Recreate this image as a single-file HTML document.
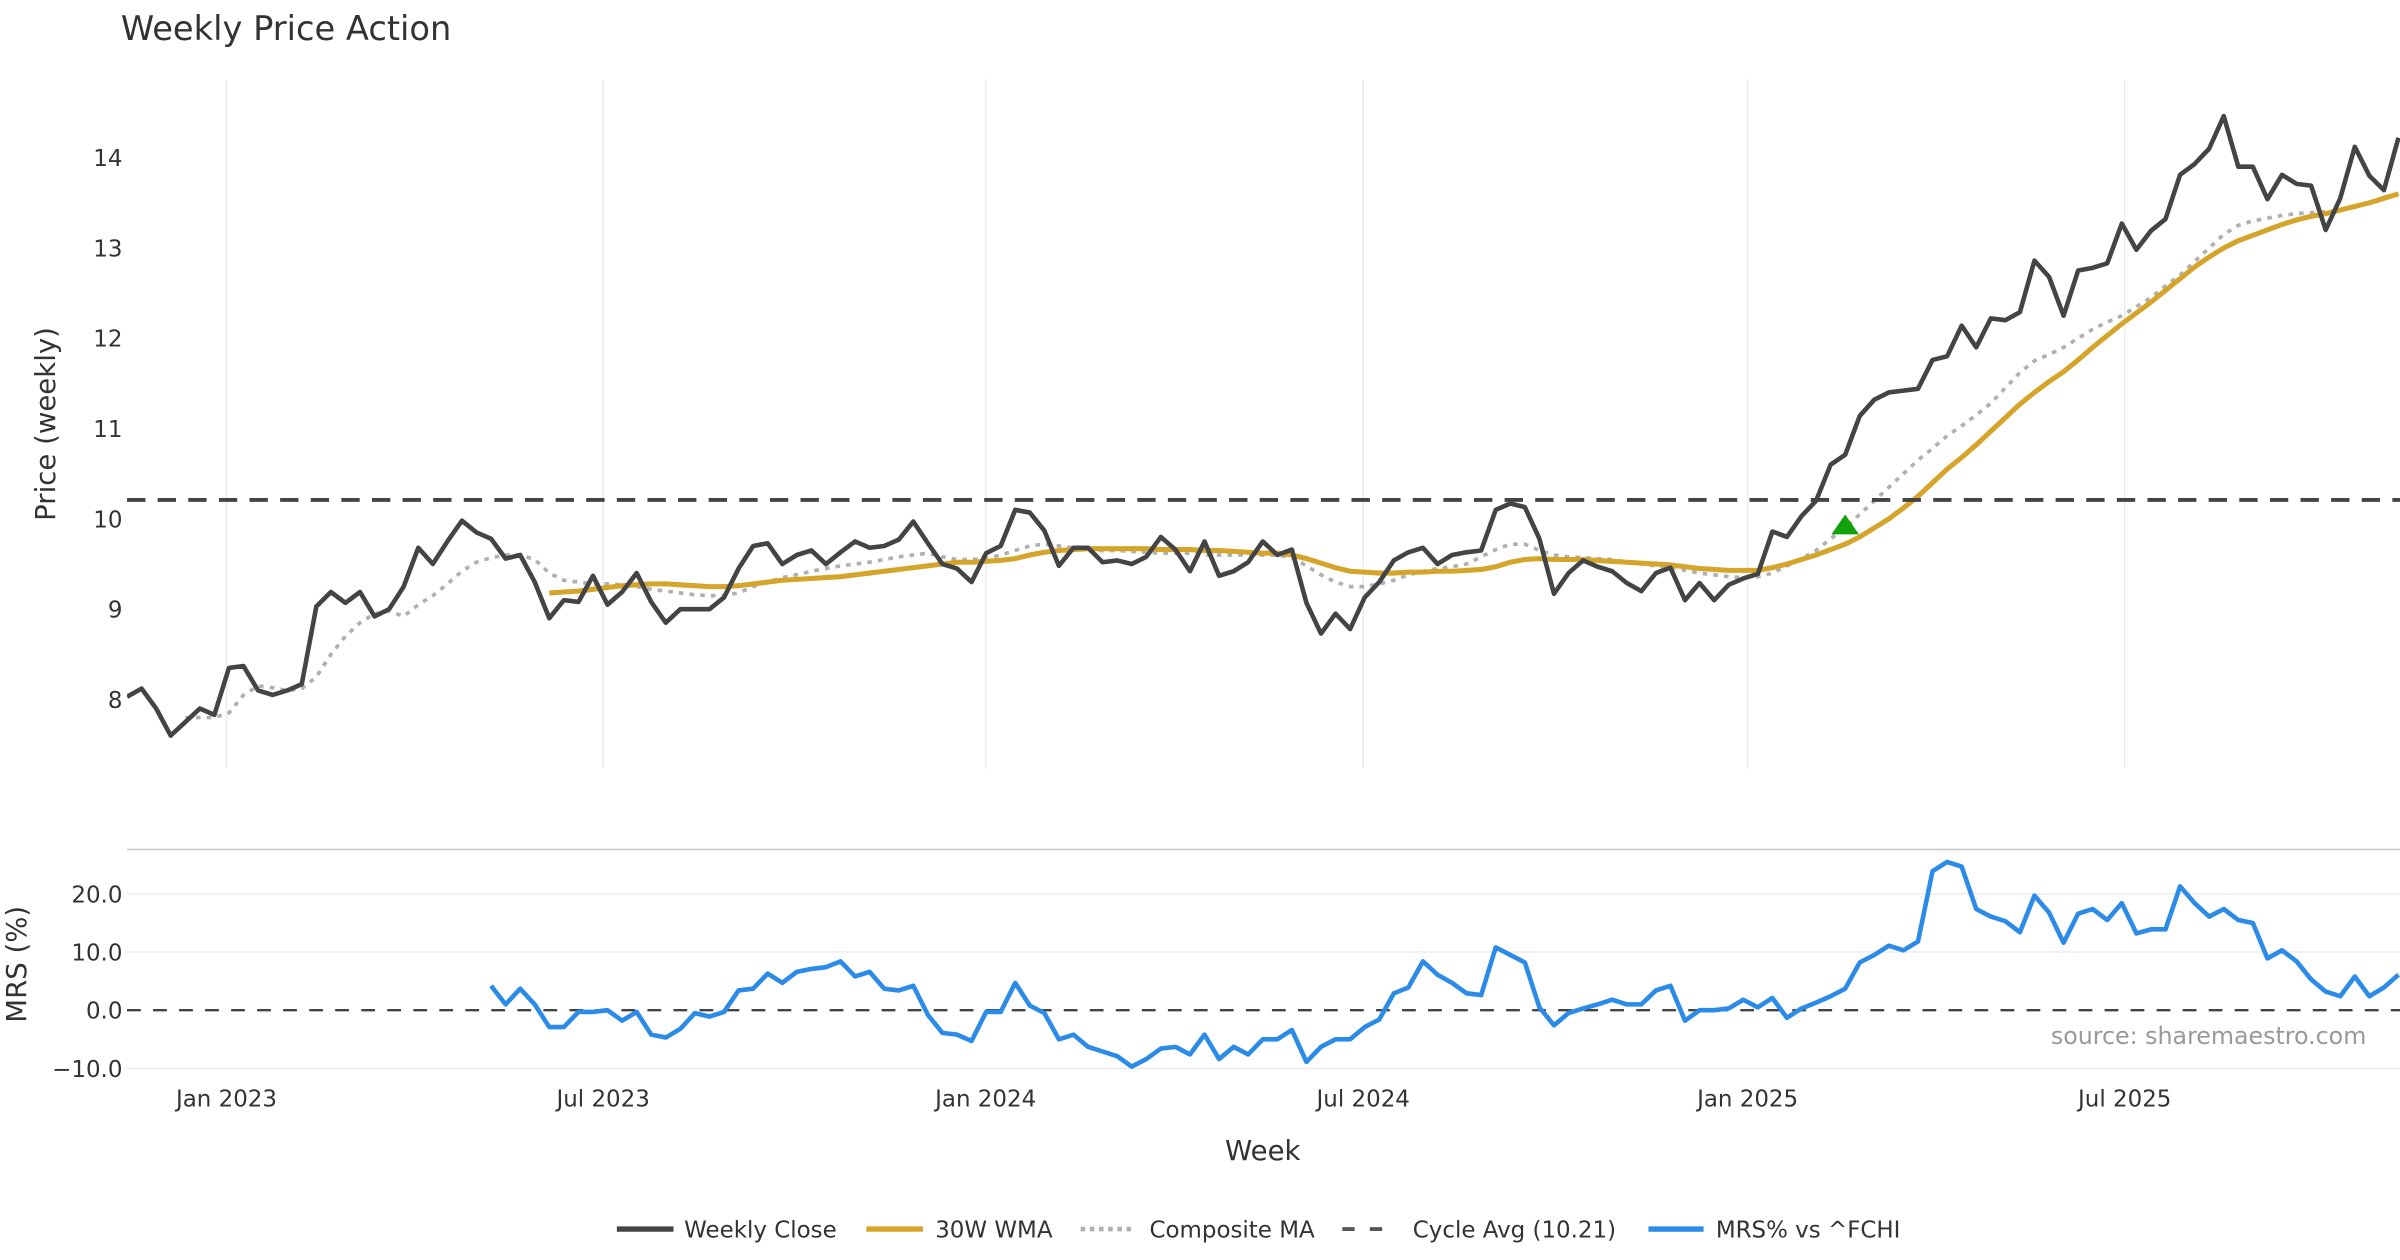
<!DOCTYPE html>
<html><head><meta charset="utf-8"><title>Weekly Price Action</title>
<style>
html,body{margin:0;padding:0;background:#fff;}
svg{display:block;font-family:"DejaVu Sans","Liberation Sans",sans-serif;}
</style></head>
<body>
<svg id="chart" width="2400" height="1260" viewBox="0 0 1568 823.2" xmlns="http://www.w3.org/2000/svg">
<rect x="0" y="0" width="1568" height="823.2" fill="#fff"/>
<text x="79" y="26" font-size="22" fill="#333">Weekly Price Action</text>
<g id="grid"></g>
<g id="series"></g>
<g id="axes"></g>
<text transform="translate(36,277) rotate(-90)" font-size="18" fill="#333" text-anchor="middle">Price (weekly)</text>
<text transform="translate(17,630) rotate(-90)" font-size="18" fill="#333" text-anchor="middle">MRS (%)</text>
<text x="825" y="758" font-size="18" fill="#333" text-anchor="middle">Week</text>
<text x="1546" y="682" font-size="15.5" fill="#999" text-anchor="end">source: sharemaestro.com</text>
<g font-size="15" fill="#333">
  <g><line x1="403" y1="803" x2="440" y2="803" stroke="#444" stroke-width="3.5"/><text x="447" y="808.5">Weekly Close</text></g>
  <g><line x1="566" y1="803" x2="603" y2="803" stroke="#d4a52a" stroke-width="3.5"/><text x="611" y="808.5">30W WMA</text></g>
  <g><line x1="706" y1="803" x2="742" y2="803" stroke="#b0b0b0" stroke-width="3" stroke-dasharray="3,3"/><text x="751" y="808.5">Composite MA</text></g>
  <g><line x1="877" y1="803" x2="913" y2="803" stroke="#555" stroke-width="2.5" stroke-dasharray="8,10"/><text x="923" y="808.5">Cycle Avg (10.21)</text></g>
  <g><line x1="1077" y1="803" x2="1113" y2="803" stroke="#2b8be6" stroke-width="3.5"/><text x="1121" y="808.5">MRS% vs ^FCHI</text></g>
</g>
</svg>
<script>
const closeVals=[8.03,8.12,7.9,7.6,7.75,7.9,7.83,8.35,8.37,8.1,8.05,8.1,8.17,9.03,9.19,9.07,9.19,8.92,9.0,9.25,9.68,9.5,9.75,9.98,9.85,9.78,9.56,9.6,9.3,8.9,9.1,9.08,9.37,9.05,9.19,9.4,9.08,8.85,9.0,9.0,9.0,9.13,9.45,9.7,9.73,9.5,9.6,9.65,9.5,9.63,9.75,9.68,9.7,9.77,9.97,9.73,9.5,9.45,9.3,9.62,9.7,10.1,10.07,9.87,9.48,9.68,9.68,9.52,9.54,9.5,9.58,9.8,9.66,9.42,9.75,9.37,9.42,9.52,9.75,9.6,9.66,9.07,8.73,8.95,8.78,9.13,9.3,9.54,9.63,9.68,9.5,9.6,9.63,9.65,10.1,10.17,10.13,9.78,9.17,9.4,9.54,9.47,9.42,9.29,9.2,9.4,9.46,9.1,9.29,9.1,9.27,9.34,9.39,9.86,9.8,10.03,10.2,10.6,10.71,11.14,11.32,11.4,11.42,11.44,11.76,11.8,12.14,11.9,12.22,12.2,12.29,12.86,12.68,12.25,12.75,12.78,12.83,13.27,12.98,13.19,13.32,13.81,13.93,14.1,14.46,13.9,13.9,13.54,13.81,13.71,13.69,13.2,13.55,14.12,13.8,13.64,14.22];
const wmaVals=[9.18,9.19,9.2,9.22,9.24,9.26,9.27,9.28,9.28,9.27,9.26,9.25,9.25,9.26,9.28,9.3,9.32,9.33,9.34,9.35,9.36,9.38,9.4,9.42,9.44,9.46,9.48,9.5,9.52,9.52,9.53,9.54,9.56,9.6,9.63,9.65,9.66,9.67,9.67,9.67,9.67,9.67,9.66,9.66,9.66,9.65,9.65,9.64,9.63,9.62,9.62,9.6,9.56,9.51,9.46,9.42,9.41,9.4,9.4,9.41,9.41,9.42,9.42,9.43,9.44,9.47,9.52,9.55,9.56,9.55,9.55,9.55,9.54,9.53,9.52,9.51,9.5,9.49,9.47,9.45,9.44,9.43,9.43,9.43,9.46,9.5,9.55,9.6,9.66,9.72,9.8,9.9,10.0,10.12,10.25,10.4,10.55,10.68,10.82,10.97,11.12,11.27,11.4,11.52,11.63,11.76,11.9,12.03,12.16,12.28,12.4,12.53,12.66,12.79,12.9,13.0,13.08,13.14,13.2,13.26,13.31,13.35,13.38,13.42,13.46,13.5,13.55,13.6];
const compVals=[7.8,7.8,7.8,7.85,8.05,8.15,8.13,8.1,8.12,8.25,8.5,8.7,8.85,8.95,8.98,8.92,9.05,9.15,9.28,9.42,9.52,9.57,9.6,9.6,9.55,9.4,9.32,9.3,9.28,9.28,9.27,9.25,9.22,9.2,9.18,9.16,9.15,9.15,9.18,9.25,9.3,9.35,9.38,9.42,9.45,9.48,9.5,9.52,9.55,9.58,9.6,9.62,9.58,9.55,9.55,9.56,9.6,9.65,9.7,9.72,9.7,9.68,9.65,9.65,9.65,9.64,9.63,9.62,9.62,9.62,9.6,9.6,9.6,9.6,9.6,9.6,9.57,9.48,9.38,9.3,9.25,9.25,9.28,9.32,9.38,9.42,9.45,9.47,9.5,9.58,9.66,9.72,9.72,9.65,9.6,9.58,9.57,9.56,9.55,9.52,9.5,9.48,9.46,9.43,9.4,9.38,9.36,9.35,9.36,9.4,9.48,9.56,9.65,9.78,9.9,10.05,10.2,10.35,10.5,10.65,10.78,10.92,11.03,11.15,11.28,11.45,11.62,11.75,11.82,11.9,12.0,12.1,12.18,12.25,12.35,12.45,12.58,12.7,12.85,13.0,13.15,13.25,13.3,13.33,13.36,13.38,13.39,13.4,13.42,13.45,13.5,13.56,13.6];
const mrsVals=[4.2,1,3.7,1,-2.9,-2.9,-0.3,-0.3,0,-1.8,-0.3,-4.2,-4.7,-3.2,-0.5,-1.1,-0.3,3.4,3.7,6.3,4.7,6.6,7.1,7.4,8.4,5.8,6.6,3.7,3.4,4.2,-0.8,-3.9,-4.2,-5.3,-0.3,-0.3,4.7,0.8,-0.5,-5,-4.2,-6.3,-7.1,-7.9,-9.7,-8.4,-6.6,-6.3,-7.6,-4.2,-8.4,-6.3,-7.6,-5,-5,-3.4,-8.9,-6.3,-5,-5,-2.9,-1.6,2.9,3.9,8.4,6.1,4.7,2.9,2.6,10.8,9.5,8.2,0.5,-2.6,-0.5,0.3,1,1.8,1,1,3.4,4.2,-1.8,0,0,0.3,1.8,0.5,2.1,-1.3,0.3,1.3,2.4,3.7,8.2,9.5,11.1,10.3,11.8,23.9,25.5,24.7,17.4,16.1,15.3,13.4,19.7,16.8,11.6,16.6,17.4,15.5,18.4,13.2,13.9,13.9,21.3,18.4,16.1,17.4,15.5,15,8.9,10.3,8.4,5.3,3.2,2.4,5.8,2.4,3.9,6.1];
const cycleAvg=[10.21];
const signalIdx=[118];
const signalVal=[9.93];
const priceTicks=[8,9,10,11,12,13,14];
const mrsTicks=[-10,0,10,20];
const mrsTickLabels=["\u221210.0","0.0","10.0","20.0"];
const dateTickIdx=[6.83,32.7,58.97,84.9,111.3,137.2];
const dateTickLabels=["Jan 2023","Jul 2023","Jan 2024","Jul 2024","Jan 2025","Jul 2025"];

const NS="http://www.w3.org/2000/svg";
const N=closeVals.length;
const X0=83,X1=1567;
function xs(i){return X0+i*(X1-X0)/(N-1);}
function yp(v){return 457-(v-8)*59;}
function ym(v){return 660-v*3.8;}
function mk(tag,attrs,parent){const e=document.createElementNS(NS,tag);for(const k in attrs)e.setAttribute(k,attrs[k]);parent.appendChild(e);return e;}
const grid=document.getElementById('grid'),ser=document.getElementById('series'),axes=document.getElementById('axes');

const defs=mk('defs',{},document.getElementById('chart'));
const cp=mk('clipPath',{id:'clipMain'},defs);mk('rect',{x:83,y:40,width:1485,height:470},cp);

dateTickIdx.forEach((t,k)=>{
  const g=mk('line',{x1:xs(t),x2:xs(t),y1:52,y2:502,stroke:'#ececec','stroke-width':1},grid);
  
  
  const tx=mk('text',{x:xs(t),y:723,'font-size':15,fill:'#333','text-anchor':'middle'},axes);
  tx.textContent=dateTickLabels[k];
  
  
});
priceTicks.forEach(v=>{
  const tx=mk('text',{x:80,y:yp(v)+5.5,'font-size':15,fill:'#333','text-anchor':'end'},axes);
  tx.textContent=String(v);
  
  
});
const sep=mk('line',{x1:83,x2:1568,y1:555,y2:555,stroke:'#ccc','stroke-width':1.2},grid);


mrsTicks.forEach((v,k)=>{
  if(v!==0){const gl=mk('line',{x1:83,x2:1568,y1:ym(v),y2:ym(v),stroke:'#ececf2','stroke-width':1},grid);
  
  }
  const tx=mk('text',{x:80,y:ym(v)+5.5,'font-size':15,fill:'#333','text-anchor':'end'},axes);
  tx.textContent=mrsTickLabels[k];
  
  
});
const zl=mk('line',{x1:83,x2:1568,y1:ym(0),y2:ym(0),stroke:'#444','stroke-width':1.5,'stroke-dasharray':'9,8'},ser);



function path(vals,off,yf){return vals.map((v,i)=>(i?'L':'M')+xs(i+off).toFixed(2)+','+yf(v).toFixed(2)).join('');}
const comp=mk('path',{d:path(compVals,N-compVals.length,yp),fill:'none',stroke:'#b0b0b0','stroke-width':2.4,'stroke-dasharray':'3,4','clip-path':'url(#clipMain)'},ser);


const wma=mk('path',{d:path(wmaVals,N-wmaVals.length,yp),fill:'none',stroke:'#d4a52a','stroke-width':3.3,'clip-path':'url(#clipMain)'},ser);


const cyc=mk('line',{x1:83,x2:1568,y1:yp(cycleAvg[0]),y2:yp(cycleAvg[0]),stroke:'#444','stroke-width':2.5,'stroke-dasharray':'12,8'},ser);


const cl=mk('path',{d:path(closeVals,0,yp),fill:'none',stroke:'#444','stroke-width':3,'stroke-linejoin':'round','clip-path':'url(#clipMain)'},ser);


signalIdx.forEach((si,k)=>{
  const cx=xs(si),cy=yp(signalVal[k]);
  const tri=mk('polygon',{points:`${cx-9},${cy+6} ${cx+9},${cy+6} ${cx},${cy-7}`,fill:'#13a10e'},ser);
  
  
});
const mrs=mk('path',{d:path(mrsVals,N-mrsVals.length,ym),fill:'none',stroke:'#2b8be6','stroke-width':3,'stroke-linejoin':'round'},ser);


</script>
</body></html>
